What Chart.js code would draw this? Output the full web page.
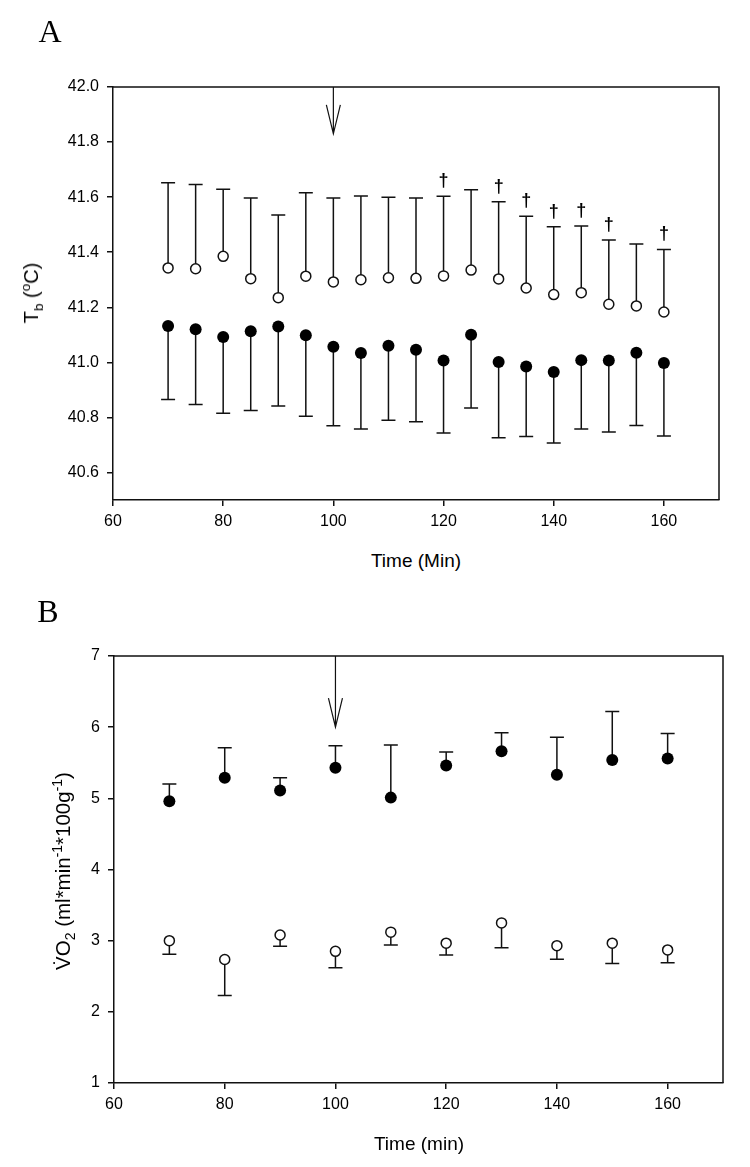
<!DOCTYPE html>
<html><head><meta charset="utf-8">
<script src="https://cdn.jsdelivr.net/npm/chart.js@4.4.1/dist/chart.umd.min.js"></script>
<style>
html,body{margin:0;padding:0;background:#fff;}
body{width:750px;height:1167px;position:relative;overflow:hidden;font-family:"Liberation Sans",Arial,sans-serif;color:#000;}
.wrap{position:absolute;left:0;width:750px;}
.lbl{position:absolute;transform:translate(-50%,-50%);white-space:nowrap;line-height:1;}
.panel{font-family:"Liberation Serif","Times New Roman",serif;font-size:32px;}
.xt{font-size:19px;}
.yt{font-size:20px;transform:translate(-50%,-50%) rotate(-90deg);}
sub,sup{font-size:68%;line-height:0;}
</style></head>
<body>
<div class="wrap" style="top:0;height:540px"><canvas id="cA"></canvas></div>
<div class="wrap" style="top:580px;height:587px"><canvas id="cB"></canvas></div>
<div class="lbl panel" style="left:50px;top:31px">A</div>
<div class="lbl panel" style="left:48px;top:611px">B</div>
<div class="lbl xt" style="left:416px;top:560px">Time (Min)</div>
<div class="lbl xt" style="left:419px;top:1143px">Time (min)</div>
<div class="lbl yt" style="left:31px;top:293px">T<sub>b</sub> (<sup>o</sup>C)</div>
<div class="lbl yt" style="left:63px;top:871px;font-size:20.5px">V&#775;O<sub>2</sub> (ml*min<sup>-1</sup>*100g<sup>-1</sup>)</div>
<script>
// ---------- Panel A data: body temperature (Tb, °C) ----------
const timeA = [70,75,80,85,90,95,100,105,110,115,120,125,130,135,140,145,150,155,160];
const tbOpen = [41.343,41.340,41.385,41.304,41.235,41.313,41.292,41.300,41.307,41.305,41.314,41.335,41.303,41.270,41.246,41.253,41.211,41.205,41.183];
const tbOpenErrTop = [41.652,41.646,41.629,41.597,41.535,41.616,41.597,41.604,41.600,41.597,41.603,41.627,41.583,41.531,41.492,41.495,41.444,41.430,41.410];
const tbFilled = [41.132,41.120,41.092,41.113,41.130,41.098,41.057,41.034,41.060,41.046,41.007,41.100,41.001,40.985,40.965,41.008,41.007,41.035,40.998];
const tbFilledErrBottom = [40.865,40.847,40.815,40.825,40.841,40.804,40.770,40.758,40.790,40.784,40.743,40.834,40.726,40.731,40.707,40.758,40.747,40.771,40.732];
const daggerTimesA = [120,130,135,140,145,150,160];
const xTicksA = [60,80,100,120,140,160];
const yTicksA = [40.6,40.8,41.0,41.2,41.4,41.6,41.8,42.0];
const arrowTimeA = 100, arrowTipA = 41.83;

// ---------- Panel B data: VO2 (ml*min-1*100g-1) ----------
const timeB = [70,80,90,100,110,120,130,140,150,160];
const vo2Filled = [4.96,5.29,5.11,5.43,5.01,5.46,5.66,5.33,5.54,5.56];
const vo2FilledErrTop = [5.20,5.71,5.29,5.74,5.75,5.65,5.92,5.86,6.22,5.91];
const vo2Open = [3.00,2.735,3.08,2.85,3.12,2.965,3.25,2.93,2.965,2.87];
const vo2OpenErrBottom = [2.81,2.23,2.92,2.62,2.94,2.80,2.90,2.74,2.68,2.69];
const xTicksB = [60,80,100,120,140,160];
const yTicksB = [1,2,3,4,5,6,7];
const arrowTimeB = 100, arrowTipB = 6.0;

const INK = '#111';
const toXY = (xs, ys) => xs.map((x, i) => ({x, y: ys[i]}));

const errorBarPlugin = {
  id: 'errbars',
  beforeDatasetsDraw(chart) {
    const {ctx} = chart, xs = chart.scales.x, ys = chart.scales.y;
    ctx.save();
    ctx.strokeStyle = INK; ctx.lineWidth = 1.5;
    chart.data.datasets.forEach(ds => {
      if (!ds.errEnds) return;
      ds.data.forEach((p, i) => {
        const x = xs.getPixelForValue(p.x);
        const y0 = ys.getPixelForValue(p.y);
        const y1 = ys.getPixelForValue(ds.errEnds[i]);
        ctx.beginPath();
        ctx.moveTo(x, y0); ctx.lineTo(x, y1);
        ctx.moveTo(x - 7, y1); ctx.lineTo(x + 7, y1);
        ctx.stroke();
      });
    });
    ctx.restore();
  },
  afterDatasetsDraw(chart, args, opts) {
    const {ctx, chartArea} = chart, xs = chart.scales.x, ys = chart.scales.y;
    ctx.save();
    ctx.strokeStyle = INK; ctx.lineWidth = 1.5;
    ctx.beginPath();
    ctx.moveTo(chartArea.left, chartArea.top);
    ctx.lineTo(chartArea.right, chartArea.top);
    ctx.lineTo(chartArea.right, chartArea.bottom);
    ctx.stroke();
    if (opts.arrowTime != null) {
      const x = xs.getPixelForValue(opts.arrowTime);
      const tip = ys.getPixelForValue(opts.arrowTip);
      ctx.lineWidth = 1.2;
      ctx.beginPath();
      ctx.moveTo(x, chartArea.top); ctx.lineTo(x, tip);
      ctx.moveTo(x - 7, tip - 29); ctx.lineTo(x, tip); ctx.lineTo(x + 7, tip - 29);
      ctx.stroke();
    }
    if (opts.daggers) {
      ctx.fillStyle = '#000';
      ctx.font = 'bold 18px "Liberation Sans", Arial, sans-serif';
      ctx.textAlign = 'center'; ctx.textBaseline = 'middle';
      const ds = chart.data.datasets.find(d => d.daggerSource);
      opts.daggers.forEach(t => {
        const i = ds.data.findIndex(p => p.x === t);
        if (i < 0) return;
        const x = xs.getPixelForValue(t);
        const y = ys.getPixelForValue(ds.errEnds[i]);
        ctx.fillText('\u2020', x, y - 15);
      });
    }
    ctx.restore();
  }
};

function makeScales(xTicks, xMin, xMax, yTicks, yMin, yMax, yWidth, fmt) {
  const common = {
    grid: {display: true, drawOnChartArea: false, drawTicks: true, tickLength: 6, color: INK, lineWidth: 1.5},
    border: {display: true, color: INK, width: 1.5},
  };
  return {
    x: Object.assign({type: 'linear', min: xMin, max: xMax,
      afterBuildTicks: s => { s.ticks = xTicks.map(v => ({value: v})); },
      afterFit: s => { s.height = 40; },
      ticks: {color: '#000', font: {size: 16, family: '"Liberation Sans", Arial, sans-serif'}, padding: 6, maxRotation: 0,
        callback: v => String(v)}}, common),
    y: Object.assign({type: 'linear', min: yMin, max: yMax,
      afterBuildTicks: s => { s.ticks = yTicks.map(v => ({value: v})); },
      afterFit: s => { s.width = yWidth; },
      ticks: {color: '#000', font: {size: 16, family: '"Liberation Sans", Arial, sans-serif'}, padding: 8,
        callback: fmt}}, common)
  };
}

const baseOpts = {
  responsive: true, maintainAspectRatio: false, animation: false,
  plugins: {legend: {display: false}, tooltip: {enabled: false}},
};

new Chart(document.getElementById('cA'), {
  type: 'scatter',
  data: {datasets: [
    {label: 'open', data: toXY(timeA, tbOpen), errEnds: tbOpenErrTop, daggerSource: true,
     pointRadius: 5, pointBorderWidth: 1.5, pointBackgroundColor: '#fff', pointBorderColor: INK, showLine: false},
    {label: 'filled', data: toXY(timeA, tbFilled), errEnds: tbFilledErrBottom,
     pointRadius: 6, pointBorderWidth: 0, pointBackgroundColor: '#000', pointBorderColor: '#000', showLine: false}
  ]},
  options: Object.assign({}, baseOpts, {
    layout: {padding: {top: 87, right: 31, left: 0, bottom: 0}},
    scales: makeScales(xTicksA, 60, 170, yTicksA, 40.5, 42.0, 113, v => Number(v).toFixed(1)),
    plugins: Object.assign({}, baseOpts.plugins, {errbars: {arrowTime: arrowTimeA, arrowTip: arrowTipA, daggers: daggerTimesA}})
  }),
  plugins: [errorBarPlugin]
});

new Chart(document.getElementById('cB'), {
  type: 'scatter',
  data: {datasets: [
    {label: 'filled', data: toXY(timeB, vo2Filled), errEnds: vo2FilledErrTop,
     pointRadius: 6, pointBorderWidth: 0, pointBackgroundColor: '#000', pointBorderColor: '#000', showLine: false},
    {label: 'open', data: toXY(timeB, vo2Open), errEnds: vo2OpenErrBottom,
     pointRadius: 5, pointBorderWidth: 1.5, pointBackgroundColor: '#fff', pointBorderColor: INK, showLine: false}
  ]},
  options: Object.assign({}, baseOpts, {
    layout: {padding: {top: 76, right: 27, left: 0, bottom: 44}},
    scales: makeScales(xTicksB, 60, 170, yTicksB, 1, 7, 114, v => String(v)),
    plugins: Object.assign({}, baseOpts.plugins, {errbars: {arrowTime: arrowTimeB, arrowTip: arrowTipB}})
  }),
  plugins: [errorBarPlugin]
});
</script>
</body></html>
